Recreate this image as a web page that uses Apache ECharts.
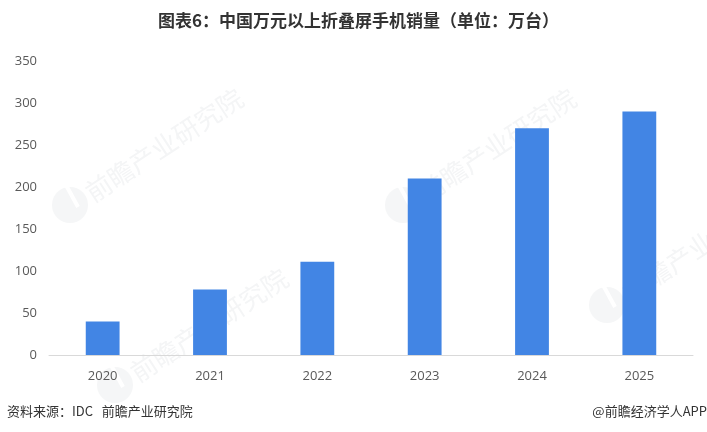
<!DOCTYPE html>
<html>
<head>
<meta charset="utf-8">
<style>
  html, body { margin: 0; padding: 0; background: #fff; }
  #chart { width: 707px; height: 432px; }
</style>
<script src="https://cdn.jsdelivr.net/npm/echarts@6/dist/echarts.min.js"></script>
</head>
<body>
<div id="chart"></div>
<script>
const years = ['2020', '2021', '2022', '2023', '2024', '2025'];
const sales = [40, 78, 111, 210, 270, 290];
const yTicks = [0, 350, 50];

const titleText = '图表6：中国万元以上折叠屏手机销量（单位：万台）';
const sourceText = '资料来源：IDC   前瞻产业研究院';
const creditText = '@前瞻经济学人APP';
const watermarkText = '前瞻产业研究院';

const cjk = '"Noto Sans CJK SC", sans-serif';
const latin = '"Open Sans", "Noto Sans", sans-serif';

// faint logo + rotated name, sits behind the bars
function watermark(x, y) {
  return [
    { type: 'circle', z: -2, shape: { cx: x, cy: y, r: 18 }, style: { fill: '#f5f6f7' } },
    { type: 'line', z: -1, shape: { x1: x - 4, y1: y - 20, x2: x + 8, y2: y + 2 },
      style: { stroke: '#fff', lineWidth: 4 } },
    { type: 'text', z: -1, x: x + 18, y: y - 10, rotation: 0.58,
      style: { text: watermarkText, font: '26px ' + cjk, fill: '#f4f5f6', verticalAlign: 'middle' } }
  ];
}

const chart = echarts.init(document.getElementById('chart'), null, { renderer: 'canvas' });
chart.setOption({
  animation: false,
  backgroundColor: '#fff',
  title: {
    text: titleText, left: 153, top: 7,
    textStyle: { fontFamily: cjk, fontSize: 17, fontWeight: 'bold', color: '#333' }
  },
  grid: { left: 49, right: 14, top: 61, bottom: 77 },
  xAxis: {
    type: 'category', data: years,
    axisTick: { show: false },
    axisLine: { lineStyle: { color: '#d9d9d9', width: 1 } },
    axisLabel: { fontFamily: latin, fontSize: 13, color: '#595959', margin: 12, padding: [3, 0, 0, 0] }
  },
  yAxis: {
    type: 'value', min: yTicks[0], max: yTicks[1], interval: yTicks[2],
    axisLine: { show: false }, axisTick: { show: false }, splitLine: { show: false },
    axisLabel: { fontFamily: latin, fontSize: 13, color: '#595959', margin: 12, padding: [3, 0, 0, 0] }
  },
  series: [{
    type: 'bar', data: sales, barWidth: '31.5%',
    itemStyle: { color: '#4285e4' }
  }],
  graphic: [
    ...watermark(70, 205),
    ...watermark(403, 205),
    ...watermark(115, 385),
    ...watermark(607, 305),
    { type: 'text', left: 7, top: 405, style: { text: sourceText, font: '13px ' + cjk, fill: '#333' } },
    { type: 'text', right: 0, top: 405, style: { text: creditText, font: '13px ' + cjk, fill: '#333' } }
  ]
});
</script>
</body>
</html>
